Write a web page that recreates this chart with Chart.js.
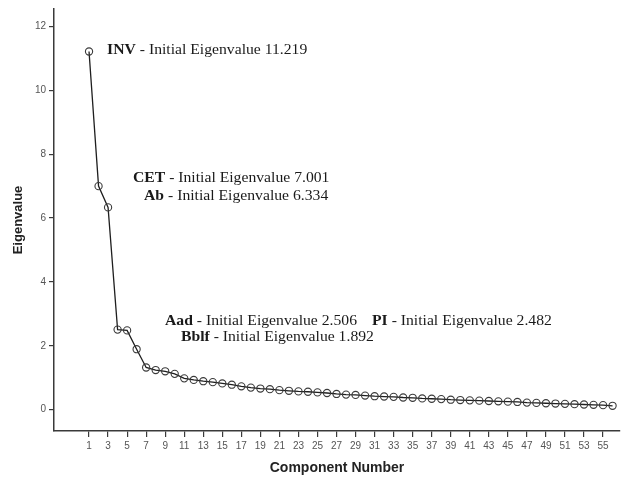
<!DOCTYPE html>
<html><head><meta charset="utf-8">
<script src="https://cdn.jsdelivr.net/npm/chart.js@4.4.1/dist/chart.umd.min.js"></script>
<style>html,body{margin:0;padding:0;background:#fff;} #wrap{width:621px;height:479px;position:relative;}</style>
</head><body><div id="wrap"><canvas id="c" width="621" height="479"></canvas></div>
<script>
const components = [1,2,3,4,5,6,7,8,9,10,11,12,13,14,15,16,17,18,19,20,21,22,23,24,25,26,27,28,29,30,31,32,33,34,35,36,37,38,39,40,41,42,43,44,45,46,47,48,49,50,51,52,53,54,55,56];
const eigenvalues = [11.219,7.001,6.334,2.506,2.482,1.892,1.32,1.24,1.20,1.12,0.98,0.93,0.89,0.86,0.82,0.78,0.73,0.69,0.66,0.64,0.61,0.59,0.57,0.56,0.54,0.52,0.49,0.47,0.46,0.44,0.42,0.41,0.40,0.38,0.37,0.35,0.34,0.33,0.31,0.30,0.29,0.28,0.27,0.26,0.25,0.24,0.22,0.21,0.20,0.19,0.18,0.17,0.16,0.15,0.14,0.12];
const xTickValues = [1,3,5,7,9,11,13,15,17,19,21,23,25,27,29,31,33,35,37,39,41,43,45,47,49,51,53,55];
const yTickValues = [0,2,4,6,8,10,12];
const labelKeys = ['INV','CET','Ab','Aad','PI','Bblf'];
const labelTexts = [' - Initial Eigenvalue 11.219',' - Initial Eigenvalue 7.001',' - Initial Eigenvalue 6.334',' - Initial Eigenvalue 2.506',' - Initial Eigenvalue 2.482',' - Initial Eigenvalue 1.892'];
const labelAtX = [2.9,5.62,6.78,8.98,30.73,10.66];
const labelAtY = [11.25,7.25,6.69,2.77,2.77,2.25];

const labelPlugin = {
  id: 'eigenLabels',
  afterDatasetsDraw(chart) {
    const {ctx, scales} = chart;
    ctx.save();
    ctx.fillStyle = '#1a1a1a';
    ctx.textBaseline = 'middle';
    ctx.textAlign = 'left';
    for (let i = 0; i < labelKeys.length; i++) {
      const px = scales.x.getPixelForValue(labelAtX[i]);
      const py = scales.y.getPixelForValue(labelAtY[i]);
      ctx.save();
      ctx.translate(px, py);
      ctx.scale(1.12, 1);
      ctx.font = 'bold 14px "Liberation Serif", "Times New Roman", serif';
      ctx.fillText(labelKeys[i], 0, 0);
      const w = ctx.measureText(labelKeys[i]).width;
      ctx.font = '14px "Liberation Serif", "Times New Roman", serif';
      ctx.fillText(labelTexts[i], w, 0);
      ctx.restore();
    }
    ctx.restore();
  }
};

const axisColor = '#3a3a3a';
new Chart(document.getElementById('c'), {
  type: 'scatter',
  data: {
    datasets: [{
      data: components.map((c, i) => ({x: c, y: eigenvalues[i]})),
      showLine: true,
      borderColor: '#1e1e1e',
      borderWidth: 1.3,
      pointRadius: 3.6,
      pointBorderWidth: 1.1,
      pointBorderColor: '#3a3a3a',
      pointBackgroundColor: 'rgba(255,255,255,0)',
      tension: 0
    }]
  },
  options: {
    responsive: false,
    animation: false,
    devicePixelRatio: 1,
    layout: {autoPadding: false, padding: {top: 2, right: 1, left: 0, bottom: 0}},
    plugins: {legend: {display: false}, tooltip: {enabled: false}},
    scales: {
      x: {
        type: 'linear',
        min: -2.68,
        max: 56.78,
        afterBuildTicks: s => { s.ticks = xTickValues.map(v => ({value: v})); },
        afterFit: s => { s.height = 48; },
        ticks: {autoSkip: false, maxRotation: 0, minRotation: 0, color: '#555', padding: 3,
                font: {family: '"Liberation Sans", Arial, sans-serif', size: 10}},
        grid: {drawOnChartArea: false, drawTicks: true, tickLength: 6, color: axisColor, lineWidth: 1.2},
        border: {display: true, color: axisColor, width: 1.5},
        title: {display: true, text: 'Component Number', color: '#222', padding: {top: 2, bottom: 2},
                font: {family: '"Liberation Sans", Arial, sans-serif', size: 14, weight: 'bold'}}
      },
      y: {
        type: 'linear',
        min: -0.67,
        max: 12.55,
        afterBuildTicks: s => { s.ticks = yTickValues.map(v => ({value: v})); },
        afterFit: s => { s.width = 54; },
        ticks: {color: '#555', padding: 3,
                font: {family: '"Liberation Sans", Arial, sans-serif', size: 10}},
        grid: {drawOnChartArea: false, drawTicks: true, tickLength: 5, color: axisColor, lineWidth: 1.2},
        border: {display: true, color: axisColor, width: 1.5},
        title: {display: true, text: 'Eigenvalue', color: '#222', padding: {top: 11, bottom: 0},
                font: {family: '"Liberation Sans", Arial, sans-serif', size: 13, weight: 'bold'}}
      }
    }
  },
  plugins: [labelPlugin]
});
</script>
</body></html>
